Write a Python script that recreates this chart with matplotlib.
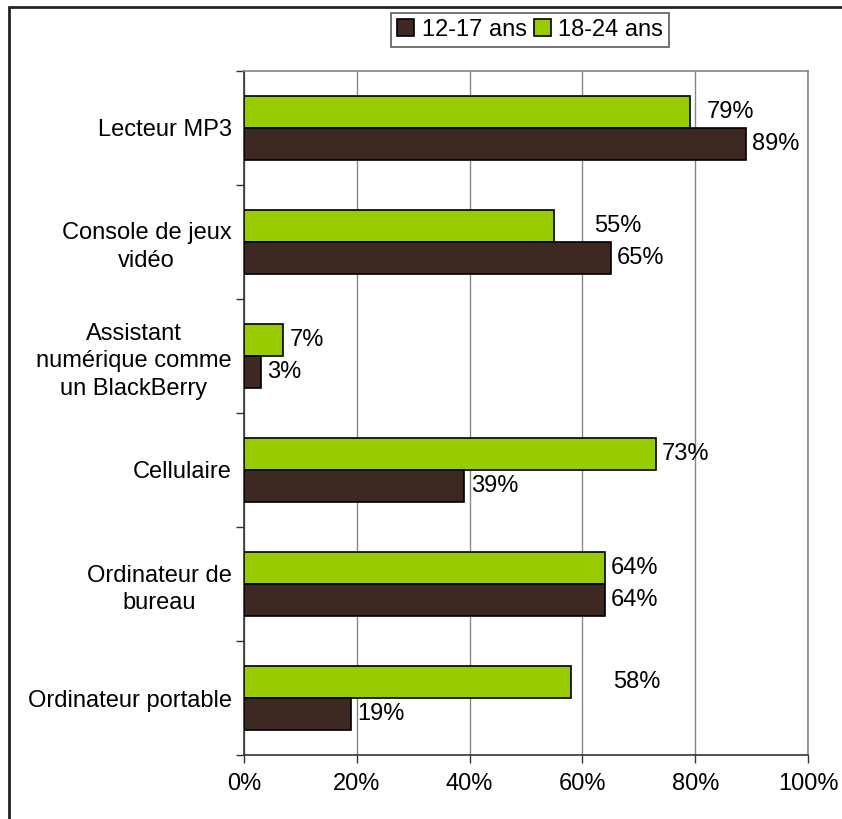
import matplotlib
matplotlib.use("Agg")
import matplotlib.pyplot as plt
import numpy as np
from matplotlib.patches import Rectangle

plt.rcParams["font.family"] = ["Liberation Sans", "DejaVu Sans"]

# Equipment owned, by age group (% of respondents)
categories = [
    "Lecteur MP3",
    "Console de jeux\nvidéo",
    "Assistant\nnumérique comme\nun BlackBerry",
    "Cellulaire",
    "Ordinateur de\nbureau",
    "Ordinateur portable",
]
ages_12_17 = [89, 65, 3, 39, 64, 19]
ages_18_24 = [79, 55, 7, 73, 64, 58]
x_ticks = [0, 20, 40, 60, 80, 100]

# extra label nudges (pixels) where the value labels sit further out
nudge_12_17 = [6, 6, 6, 7, 6, 6]
nudge_18_24 = [17, 40, 6, 6, 6, 42]

BROWN = "#3d2922"
GREEN = "#99cc00"
GRID = "#868686"
FS = 17

fig = plt.figure(figsize=(8.42, 8.19), dpi=100)
ax = fig.add_axes([244 / 842, 1 - 755 / 819, 564 / 842, 684 / 819])

pos = np.arange(len(categories))
h = 0.28
ax.barh(pos - h / 2, ages_18_24, height=h, color=GREEN, edgecolor="black",
        lw=1.2, label="18-24 ans", zorder=3)
ax.barh(pos + h / 2, ages_12_17, height=h, color=BROWN, edgecolor="black",
        lw=1.2, label="12-17 ans", zorder=3)

for p, v, dx in zip(pos, ages_18_24, nudge_18_24):
    ax.annotate(f"{v}%", (v, p - h / 2), xytext=(dx * 0.72, 0),
                textcoords="offset points", va="center", ha="left", fontsize=FS)
for p, v, dx in zip(pos, ages_12_17, nudge_12_17):
    ax.annotate(f"{v}%", (v, p + h / 2), xytext=(dx * 0.72, 0),
                textcoords="offset points", va="center", ha="left", fontsize=FS)

ax.set_xlim(0, 100)
ax.set_ylim(len(categories) - 0.5, -0.5)
ax.set_xticks(x_ticks)
ax.set_xticklabels([f"{t}%" for t in x_ticks], fontsize=FS)
ax.tick_params(axis="x", length=6, width=1, pad=7, color="#333333")

# category boundaries as ticks, names as unmarked minor ticks
ax.set_yticks(np.arange(-0.5, len(categories)))
ax.set_yticklabels([])
ax.tick_params(axis="y", which="major", length=6, width=1, color="#333333")
ax.set_yticks(pos, minor=True)
ax.set_yticklabels(categories, minor=True, fontsize=FS, multialignment="center",
                   linespacing=1.33)
ax.tick_params(axis="y", which="minor", length=0, pad=9)

ax.grid(axis="x", color=GRID, lw=1, zorder=0)
ax.spines["top"].set_color(GRID)
ax.spines["right"].set_color(GRID)
ax.spines["left"].set_color("#333333")
ax.spines["bottom"].set_color("#333333")
for s in ax.spines.values():
    s.set_linewidth(1.2)

handles, labels = ax.get_legend_handles_labels()
leg = fig.legend(handles[::-1], labels[::-1], loc="center",
                 bbox_to_anchor=(530 / 842, 1 - 30 / 819), ncol=2, fontsize=FS,
                 frameon=True, fancybox=False, handlelength=0.75, handleheight=0.75,
                 handletextpad=0.3, columnspacing=0.3, borderpad=0.25,
                 borderaxespad=0)
leg.get_frame().set_edgecolor("#333333")
leg.get_frame().set_linewidth(1.2)

# chart frame
fig.patches.append(Rectangle((9 / 842, -0.05), 1.0, 1 - 7 / 819 + 0.05,
                             transform=fig.transFigure, fill=False,
                             edgecolor="#222222", lw=2, clip_on=False))

fig.savefig("out.png", dpi=100)
